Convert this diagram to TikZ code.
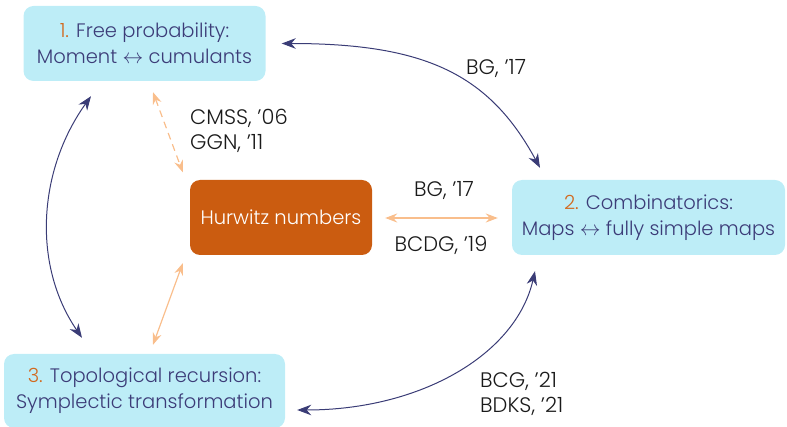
\documentclass[tikz,border=0pt]{standalone}
\usepackage{fontspec}
\IfFontExistsTF{Poppins Light}
  {\setmainfont{Poppins Light}}
  {\setmainfont{Poppins}}
\usetikzlibrary{arrows.meta}

\definecolor{boxfill}{HTML}{BDEDF7}
\definecolor{boxtext}{HTML}{3C3C78}
\definecolor{numcol}{HTML}{D2691E}
\definecolor{hurfill}{HTML}{CB5C10}
\definecolor{navy}{HTML}{3A3C76}
\definecolor{peach}{HTML}{F9BE8C}
\definecolor{labelcol}{HTML}{1A1A1A}

\tikzset{
  topic/.style={rectangle, rounded corners=10pt, fill=boxfill, text=boxtext,
    align=center, inner sep=0pt, font=\fontsize{19.5}{26}\selectfont},
  hub/.style={rectangle, rounded corners=10pt, fill=hurfill, text=white,
    align=center, inner sep=0pt, font=\fontsize{19.5}{26}\selectfont},
  ref/.style={text=labelcol, align=left, inner sep=0pt, font=\fontsize{21}{25}\selectfont},
  navylink/.style={draw=navy, line width=1pt,
    {Stealth[length=14pt,width=10.5pt,inset=4.5pt]}-{Stealth[length=14pt,width=10.5pt,inset=4.5pt]}},
  peachlink/.style={draw=peach, line width=1.2pt,
    {Stealth[length=12pt,width=9pt,inset=4pt]}-{Stealth[length=12pt,width=9pt,inset=4pt]}}
}

\begin{document}
\begin{tikzpicture}[x=1pt,y=-1pt]
\useasboundingbox (0,0) rectangle (787,427);

% topic boxes
\node[topic, minimum width=242pt, minimum height=75pt] (free) at (144.5,43.5)
  {{\color{numcol}1.} Free probability:\\Moment $\leftrightarrow$ cumulants};
\node[topic, minimum width=273pt, minimum height=75pt] (comb) at (648.5,217.5)
  {{\color{numcol}2.} Combinatorics:\\Maps $\leftrightarrow$ fully simple maps};
\node[topic, minimum width=281pt, minimum height=74pt] (topo) at (144.5,391)
  {{\color{numcol}3.} Topological recursion:\\Symplectic transformation};
\node[hub, minimum width=182pt, minimum height=75pt] (hur) at (281,217.5)
  {Hurwitz numbers};

% reference labels
\node[ref, anchor=west] (l1) at (190,131) {CMSS, ’06\\GGN, ’11};
\node[ref, anchor=west] (l2) at (466,69) {BG, ’17};
\node[ref, anchor=center] (l3) at (444,191) {BG, ’17};
\node[ref, anchor=center] (l4) at (441,245) {BCDG, ’19};
\node[ref, anchor=west] (l5) at (480,394) {BCG, ’21\\BDKS, ’21};

% links between the three fields
\draw[navylink] ([shift={(16,0)}]free.east)
  .. controls +(143,0) and +(-51,-94) .. ([shift={(-108.5,-12)}]comb.north);
\draw[navylink] ([shift={(-53.5,15)}]free.south)
  .. controls +(-53,74) and +(-50,-73) .. ([shift={(-62.5,-16)}]topo.north);
\draw[navylink] ([shift={(12,19)}]topo.east)
  .. controls +(124,0) and +(-19,83) .. ([shift={(-113.5,16)}]comb.south);

% links through the Hurwitz numbers
\draw[peachlink, dashed, dash pattern=on 7pt off 5pt] ([shift={(8.5,11)}]free.south)
  -- ([shift={(-7,-7.5)}]hur.north west);
\draw[peachlink] ([shift={(-7,8)}]hur.south west)
  -- ([shift={(8.5,-9)}]topo.north);
\draw[peachlink] ([shift={(13,0.5)}]hur.east) -- ([shift={(-14,0.5)}]comb.west);
\end{tikzpicture}
\end{document}
